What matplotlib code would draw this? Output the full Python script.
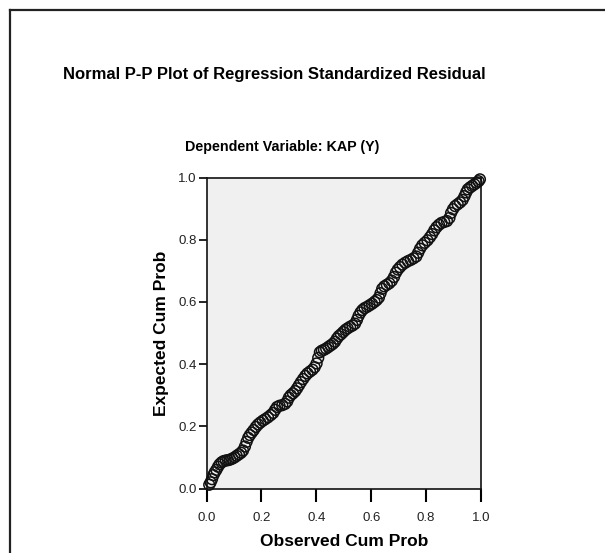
import matplotlib
matplotlib.use("Agg")
import matplotlib.pyplot as plt
from matplotlib.lines import Line2D

plt.rcParams['font.family'] = ['Liberation Sans', 'DejaVu Sans']

# Observed vs expected cumulative probabilities
observed_cum = [
    0.010, 0.015, 0.020, 0.025, 0.030, 0.036, 0.042, 0.048, 0.055, 0.062,
    0.070, 0.078, 0.086, 0.094, 0.102, 0.110, 0.118, 0.126, 0.133, 0.140,
    0.146, 0.152, 0.158, 0.165, 0.172, 0.180, 0.188, 0.196, 0.205, 0.214,
    0.224, 0.234, 0.243, 0.250, 0.257, 0.266, 0.276, 0.286, 0.294, 0.300,
    0.307, 0.315, 0.323, 0.330, 0.337, 0.344, 0.352, 0.360, 0.368, 0.377,
    0.386, 0.394, 0.401, 0.407, 0.413, 0.420, 0.428, 0.436, 0.444, 0.452,
    0.460, 0.468, 0.475, 0.482, 0.490, 0.498, 0.506, 0.514, 0.523, 0.532,
    0.541, 0.548, 0.554, 0.561, 0.568, 0.576, 0.585, 0.594, 0.603, 0.612,
    0.620, 0.628, 0.634, 0.640, 0.648, 0.657, 0.666, 0.675, 0.683, 0.690,
    0.697, 0.705, 0.714, 0.724, 0.734, 0.744, 0.754, 0.764, 0.771, 0.778,
    0.786, 0.795, 0.805, 0.814, 0.822, 0.830, 0.838, 0.847, 0.856, 0.866,
    0.876, 0.885, 0.891, 0.898, 0.906, 0.915, 0.924, 0.933, 0.940, 0.946,
    0.952, 0.960, 0.968, 0.976, 0.984, 0.991, 0.996,
]
expected_cum = [
    0.012, 0.020, 0.030, 0.043, 0.052, 0.060, 0.070, 0.078, 0.084, 0.088,
    0.090, 0.091, 0.093, 0.096, 0.100, 0.105, 0.110, 0.115, 0.122, 0.135,
    0.150, 0.163, 0.172, 0.180, 0.188, 0.198, 0.206, 0.212, 0.218, 0.223,
    0.229, 0.236, 0.243, 0.253, 0.262, 0.266, 0.268, 0.272, 0.280, 0.292,
    0.300, 0.306, 0.313, 0.322, 0.332, 0.342, 0.352, 0.362, 0.370, 0.376,
    0.382, 0.390, 0.402, 0.420, 0.438, 0.443, 0.446, 0.450, 0.455, 0.460,
    0.465, 0.472, 0.482, 0.490, 0.496, 0.503, 0.510, 0.515, 0.520, 0.524,
    0.530, 0.542, 0.555, 0.566, 0.574, 0.580, 0.584, 0.589, 0.594, 0.600,
    0.606, 0.614, 0.628, 0.642, 0.650, 0.655, 0.660, 0.668, 0.680, 0.694,
    0.704, 0.712, 0.720, 0.726, 0.731, 0.735, 0.740, 0.746, 0.758, 0.771,
    0.782, 0.790, 0.798, 0.808, 0.818, 0.830, 0.840, 0.848, 0.854, 0.857,
    0.860, 0.870, 0.886, 0.898, 0.908, 0.914, 0.920, 0.928, 0.940, 0.952,
    0.962, 0.968, 0.973, 0.978, 0.983, 0.988, 0.994,
]
ticks = [0.0, 0.2, 0.4, 0.6, 0.8, 1.0]
tick_labels = ['0.0', '0.2', '0.4', '0.6', '0.8', '1.0']

fig = plt.figure(figsize=(6.05, 5.53), dpi=100)
fig.patch.set_facecolor('white')

# outer chart frame (left and top edges only, the rest is cut off)
fig.add_artist(Line2D([10 / 605, 10 / 605], [0, 1 - 9.5 / 553],
                      transform=fig.transFigure, color='#222222', lw=1.6))
fig.add_artist(Line2D([10 / 605, 1], [1 - 9.5 / 553, 1 - 9.5 / 553],
                      transform=fig.transFigure, color='#222222', lw=1.6))

ax = fig.add_axes([206.5 / 605, 1 - 488.5 / 553, 274.5 / 605, 311 / 553])
ax.set_facecolor('#f0f0f0')

ax.scatter(observed_cum, expected_cum, s=60, facecolors='none',
           edgecolors='#111111', linewidths=1.1, clip_on=False, zorder=3)

ax.set_xlim(0, 1)
ax.set_ylim(0, 1)
ax.set_xticks(ticks)
ax.set_xticklabels(tick_labels)
ax.set_yticks(ticks)
ax.set_yticklabels(tick_labels)
ax.tick_params(axis='x', direction='out', length=9, width=1.5,
               labelsize=9.5, labelcolor='#222222', pad=8)
ax.tick_params(axis='y', direction='out', length=6, width=1.2,
               labelsize=9.5, labelcolor='#222222', pad=1)
for sp in ax.spines.values():
    sp.set_color('#111111')
    sp.set_linewidth(1.2)

ax.set_xlabel('Observed Cum Prob', fontsize=12.5, fontweight='bold', labelpad=7)
ax.set_ylabel('Expected Cum Prob', fontsize=12.5, fontweight='bold', labelpad=7)

fig.text(274 / 605, 1 - 75 / 553,
         'Normal P-P Plot of Regression Standardized Residual',
         ha='center', va='center', fontsize=12, fontweight='bold')
fig.text(282 / 605, 1 - 147 / 553, 'Dependent Variable: KAP (Y)',
         ha='center', va='center', fontsize=10.3, fontweight='bold')

fig.savefig('out.png', dpi=100)
